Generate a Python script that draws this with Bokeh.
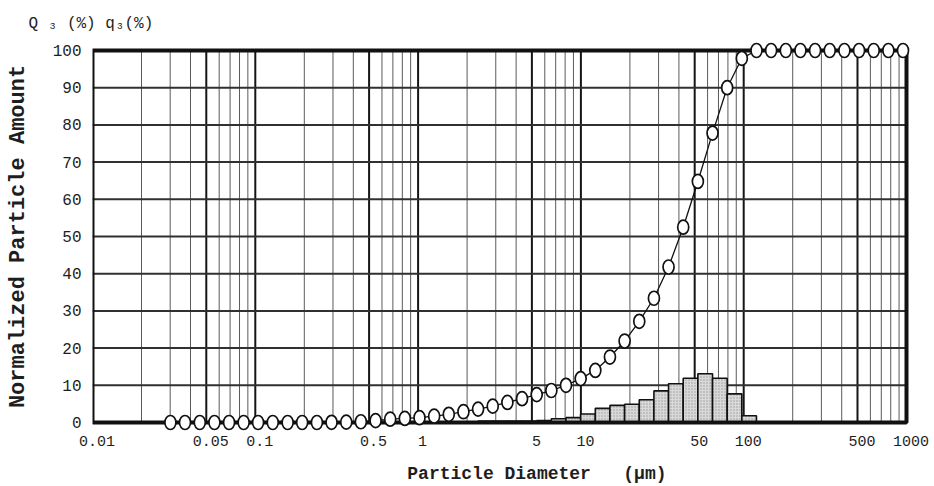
from bokeh.plotting import figure
from bokeh.models import Range1d, FixedTicker
from bokeh.embed import file_html
from bokeh.resources import INLINE

# ---- data ----
diameters = [0.0301, 0.0370, 0.0456, 0.0561, 0.0690, 0.0848, 0.104, 0.128, 0.158, 0.194,
             0.239, 0.294, 0.362, 0.445, 0.548, 0.674, 0.829, 1.020, 1.255, 1.543,
             1.899, 2.336, 2.874, 3.536, 4.350, 5.352, 6.584, 8.100, 9.966, 12.26,
             15.08, 18.56, 22.83, 28.09, 34.55, 42.51, 52.30, 64.35, 79.16, 97.39,
             119.8, 147.4, 181.4, 223.1, 274.5, 337.7, 415.5, 511.2, 628.9, 773.7, 951.8]
Q3 = [0, 0, 0, 0, 0, 0, 0, 0, 0, 0,
      0, 0.05, 0.1, 0.2, 0.5, 0.9, 1.1, 1.3, 1.7, 2.2,
      2.9, 3.6, 4.4, 5.4, 6.4, 7.5, 8.6, 10.0, 11.8, 14.0,
      17.6, 21.9, 27.2, 33.4, 41.8, 52.5, 64.8, 77.8, 90.0, 97.9,
      100, 100, 100, 100, 100, 100, 100, 100, 100, 100, 100]
# q3 per interval [d_i, d_i+1]
q3 = [0] * 21 + [0.4, 0.4, 0.4, 0.4, 0.5, 1.0, 1.3, 2.3, 3.8, 4.6,
                 4.9, 6.1, 8.5, 10.4, 11.9, 13.1, 11.9, 7.7, 1.8] + [0] * 10

x_major_ticks = [0.01, 0.05, 0.1, 0.5, 1, 5, 10, 50, 100, 500, 1000]
x_major_labels = ["0.01", "0.05", "0.1", "0.5", "1", "5", "10", "50", "100", "500", "1000"]
decades = [0.01, 0.1, 1, 10, 100]
x_minor_mult = [2, 3, 4, 6, 7, 8, 9]
y_ticks = [0, 10, 20, 30, 40, 50, 60, 70, 80, 90, 100]

NB = "\u00a0"
heading = "Q" + NB + "\u2083" + NB + "(%)" + NB + "q\u2083(%)"
x_title = NB * 6 + "Particle" + NB + "Diameter" + NB * 3 + "(\u03bcm)"
y_title = "Normalized Particle Amount"

# ---- layout ----
W, H = 934, 486
L, R, T, B = 92, 18, 40, 54
px_per_dec = 162.8
pad_px = 10
x_end = 1000 * 10 ** (pad_px / px_per_dec)
y_pad = pad_px / 3.72

p = figure(width=W, height=H, x_axis_type="log",
           x_range=Range1d(0.01, x_end), y_range=Range1d(-y_pad, 100 + y_pad),
           output_backend="svg", toolbar_location=None,
           min_border_left=L, min_border_right=R, min_border_top=T, min_border_bottom=B)
p.outline_line_color = None
p.grid.visible = False
p.background_fill_color = "white"
p.border_fill_color = "white"

FONT = "Liberation Mono"
TXT = "#1e1e1e"

p.xaxis.ticker = FixedTicker(ticks=x_major_ticks, minor_ticks=[])
p.xaxis.major_label_overrides = {t: NB + l for t, l in zip(x_major_ticks, x_major_labels)}
p.yaxis.ticker = FixedTicker(ticks=y_ticks, minor_ticks=[])
for ax in (p.xaxis[0], p.yaxis[0]):
    ax.axis_line_color = None
    ax.major_tick_line_color = None
    ax.minor_tick_line_color = None
    ax.major_tick_out = 0
    ax.major_tick_in = 0
    ax.major_label_text_font = FONT
    ax.major_label_text_color = TXT
    ax.axis_label_text_font = FONT
    ax.axis_label_text_color = TXT
    ax.axis_label_text_font_style = "bold"
p.xaxis.major_label_text_font_size = "15px"
p.yaxis.major_label_text_font_size = "16px"
p.xaxis.major_label_standoff = 1
p.yaxis.major_label_standoff = 11

p.yaxis.axis_label = y_title
p.yaxis.axis_label_text_font_size = "22px"
p.yaxis.axis_label_standoff = 19

p.xaxis.axis_label = x_title
p.xaxis.axis_label_text_font_size = "18px"
p.xaxis.axis_label_standoff = 10

p.title.text = heading
p.title.text_font = FONT
p.title.text_font_size = "16px"
p.title.text_font_style = "normal"
p.title.text_color = TXT
p.title.align = "left"
p.title.offset = -64
p.title.standoff = 15

# ---- grid ----
minor_x = [m * d for d in decades for m in x_minor_mult]
major_x = x_major_ticks[1:-1]
p.segment(x0=minor_x, y0=[0] * len(minor_x), x1=minor_x, y1=[100] * len(minor_x),
          line_color="#5a5a5a", line_width=1)
p.segment(x0=major_x, y0=[0] * len(major_x), x1=major_x, y1=[100] * len(major_x),
          line_color="#151515", line_width=2)
hy = y_ticks[1:-1]
p.segment(x0=[0.01] * len(hy), y0=hy, x1=[1000] * len(hy), y1=hy,
          line_color="#303030", line_width=2)

# ---- histogram bars ----
bl, br, bt = [], [], []
for i, v in enumerate(q3):
    if v > 0:
        bl.append(diameters[i]); br.append(diameters[i + 1]); bt.append(v)
p.quad(left=bl, right=br, bottom=[0] * len(bl), top=bt,
       fill_color="#d9d9d9", line_color="#111111", line_width=1.6,
       hatch_pattern="dot", hatch_color="#9a9a9a", hatch_scale=3, hatch_weight=0.8)

# ---- frame ----
p.quad(left=[x_major_ticks[0]], right=[x_major_ticks[-1]], bottom=[y_ticks[0]], top=[y_ticks[-1]],
       fill_color=None, line_color="#111111", line_width=4)

# ---- cumulative curve ----
p.line(diameters, Q3, line_color="#111111", line_width=1.3)
p.ellipse(x=diameters, y=Q3, width=11, height=14, width_units="screen", height_units="screen",
          fill_color="white", line_color="#111111", line_width=1.7)

open("out.html", "w").write(file_html(p, INLINE))
